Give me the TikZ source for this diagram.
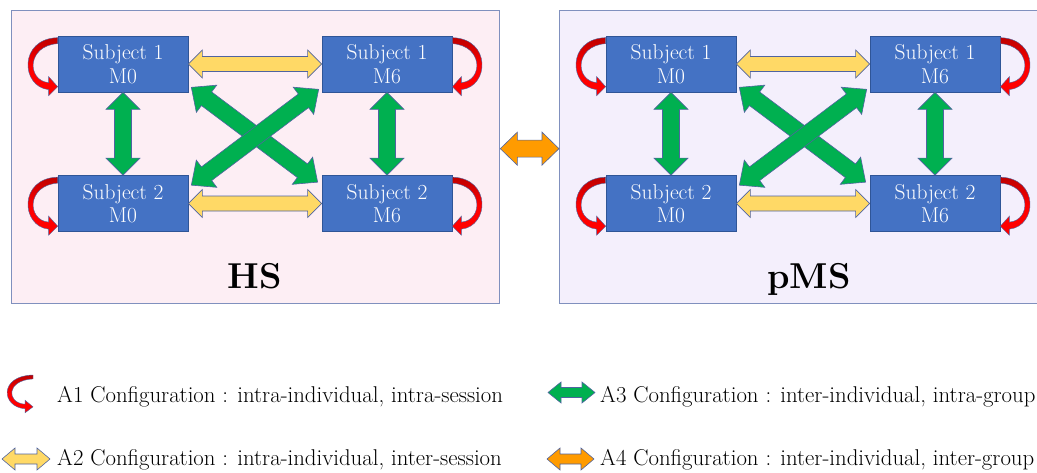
\documentclass[tikz,border=0pt]{standalone}
\usetikzlibrary{calc}

\definecolor{hsfill}{RGB}{253,238,244}
\definecolor{pmsfill}{RGB}{244,239,252}
\definecolor{panelline}{RGB}{128,144,190}
\definecolor{subjblue}{RGB}{68,114,196}
\definecolor{subjline}{RGB}{47,85,151}
\definecolor{arrowline}{RGB}{80,100,160}
\definecolor{sessyellow}{RGB}{255,217,102}
\definecolor{indgreen}{RGB}{0,176,80}
\definecolor{grouporange}{RGB}{255,155,0}
\definecolor{loopred}{RGB}{255,0,0}
\definecolor{loopdark}{RGB}{190,0,0}

% Block double arrow between two points:
% #1 style, #2 start, #3 end, #4 shaft half width, #5 head half width, #6 head length
\newcommand{\blockarrow}[6]{%
  \path[#1] (#2)
    -- ($(#2)!#6!(#3)!#5!90:(#3)$)
    -- ($(#2)!#6!(#3)!#4!90:(#3)$)
    -- ($(#3)!#6!(#2)!#4!-90:(#2)$)
    -- ($(#3)!#6!(#2)!#5!-90:(#2)$)
    -- (#3)
    -- ($(#3)!#6!(#2)!#5!90:(#2)$)
    -- ($(#3)!#6!(#2)!#4!90:(#2)$)
    -- ($(#2)!#6!(#3)!#4!-90:(#3)$)
    -- ($(#2)!#6!(#3)!#5!-90:(#3)$)
    -- cycle;}

\begin{document}
\begin{tikzpicture}[x=1pt,y=-1pt,
  panel/.style={draw=panelline, line width=1.3pt, minimum width=488pt,
    minimum height=293pt, anchor=north west, inner sep=0pt},
  subj/.style={draw=subjline, fill=subjblue, text=white, line width=0.7pt,
    minimum width=130pt, minimum height=56pt, inner sep=0pt, align=center,
    font=\fontsize{21.5}{23.5}\selectfont},
  grouplabel/.style={font=\fontsize{36}{40}\selectfont\bfseries, anchor=base},
  legendtext/.style={font=\fontsize{22.8}{25}\selectfont, anchor=base west, inner sep=0pt},
  yarrow/.style={fill=sessyellow, draw=arrowline, line width=0.6pt, line join=miter},
  garrow/.style={fill=indgreen, draw=arrowline, line width=0.6pt, line join=miter},
  oarrow/.style={fill=grouporange, draw=arrowline, line width=0.6pt, line join=miter},
  loopstyle/.style={top color=loopdark, bottom color=loopred, middle color=loopred,
    draw=arrowline, line width=0.4pt},
  uturn/.pic={
    \path[loopstyle] (0,0) .. controls (-39,1) and (-37,49) .. (-9,52)
      -- (-9,58) -- (0,49) -- (-9,39) -- (-9,45)
      .. controls (-31,43) and (-31,8) .. (0,6) -- cycle;
  }]
\useasboundingbox (0,0) rectangle (1037,472);
\path[clip] (0,0) rectangle (1037,472);

% group panels
\node[panel, fill=hsfill] (hs) at (11,10) {};
\node[panel, fill=pmsfill, minimum width=500pt] (pms) at (559,10) {};
\node[grouplabel] (hslabel) at (255,288) {HS};
\node[grouplabel] (pmslabel) at (809,288) {pMS};

% subjects and sessions, one grid per group
\foreach \g/\dx in {a/0, b/548} {
  \node[subj] (\g s1m0) at (123+\dx,64) {Subject 1\\M0};
  \node[subj] (\g s2m0) at (123+\dx,203.5) {Subject 2\\M0};
  \node[subj] (\g s1m6) at (387+\dx,64) {Subject 1\\M6};
  \node[subj] (\g s2m6) at (387+\dx,203.5) {Subject 2\\M6};

  % intra-session loops
  \pic at ($(\g s1m0.north west)+(0,2)$) {uturn};
  \pic at ($(\g s2m0.north west)+(0,2)$) {uturn};
  \pic[xscale=-1] at ($(\g s1m6.north east)+(0,2)$) {uturn};
  \pic[xscale=-1] at ($(\g s2m6.north east)+(0,2)$) {uturn};

  % inter-session
  \blockarrow{yarrow}{\g s1m0.east}{\g s1m6.west}{7.5pt}{14pt}{14pt}
  \blockarrow{yarrow}{\g s2m0.east}{\g s2m6.west}{7.5pt}{14pt}{14pt}

  % inter-individual
  \blockarrow{garrow}{\g s1m0.south}{\g s2m0.north}{8.5pt}{17pt}{17pt}
  \blockarrow{garrow}{\g s1m6.south}{\g s2m6.north}{8.5pt}{17pt}{17pt}
  \coordinate (\g d1) at ($(\g s1m0.south east)+(3,-5)$);
  \coordinate (\g d2) at ($(\g s2m6.north west)+(-4,7)$);
  \coordinate (\g d3) at ($(\g s1m6.south west)+(-3,-3)$);
  \coordinate (\g d4) at ($(\g s2m0.north east)+(3,10)$);
  \blockarrow{garrow}{\g d1}{\g d2}{8.5pt}{17pt}{19pt}
  \blockarrow{garrow}{\g d3}{\g d4}{8.5pt}{17pt}{19pt}
}

% inter-group
\coordinate (og1) at ([yshift=8.5pt]hs.east);
\coordinate (og2) at ([yshift=8.5pt]pms.west);
\blockarrow{oarrow}{og1}{og2}{8.5pt}{16.5pt}{17pt}

% legend
\pic[xscale=0.87, yscale=0.65] at (33,375) {uturn};
\node[legendtext] (l1) at (57,402) {A1 Configuration : intra-individual, intra-session};

\coordinate (ly1) at (2,459);
\coordinate (ly2) at (50,459);
\blockarrow{yarrow}{ly1}{ly2}{5pt}{11pt}{13pt}
\node[legendtext] (l2) at (57,465) {A2 Configuration : intra-individual, inter-session};

\coordinate (lg1) at (548,392.5);
\coordinate (lg2) at (595,392.5);
\blockarrow{garrow}{lg1}{lg2}{5pt}{10.5pt}{13pt}
\node[legendtext] (l3) at (600,402) {A3 Configuration : inter-individual, intra-group};

\coordinate (lo1) at (547,459);
\coordinate (lo2) at (594,459);
\blockarrow{oarrow}{lo1}{lo2}{5pt}{11pt}{13pt}
\node[legendtext] (l4) at (600,465) {A4 Configuration : inter-individual, inter-group};
\end{tikzpicture}
\end{document}
